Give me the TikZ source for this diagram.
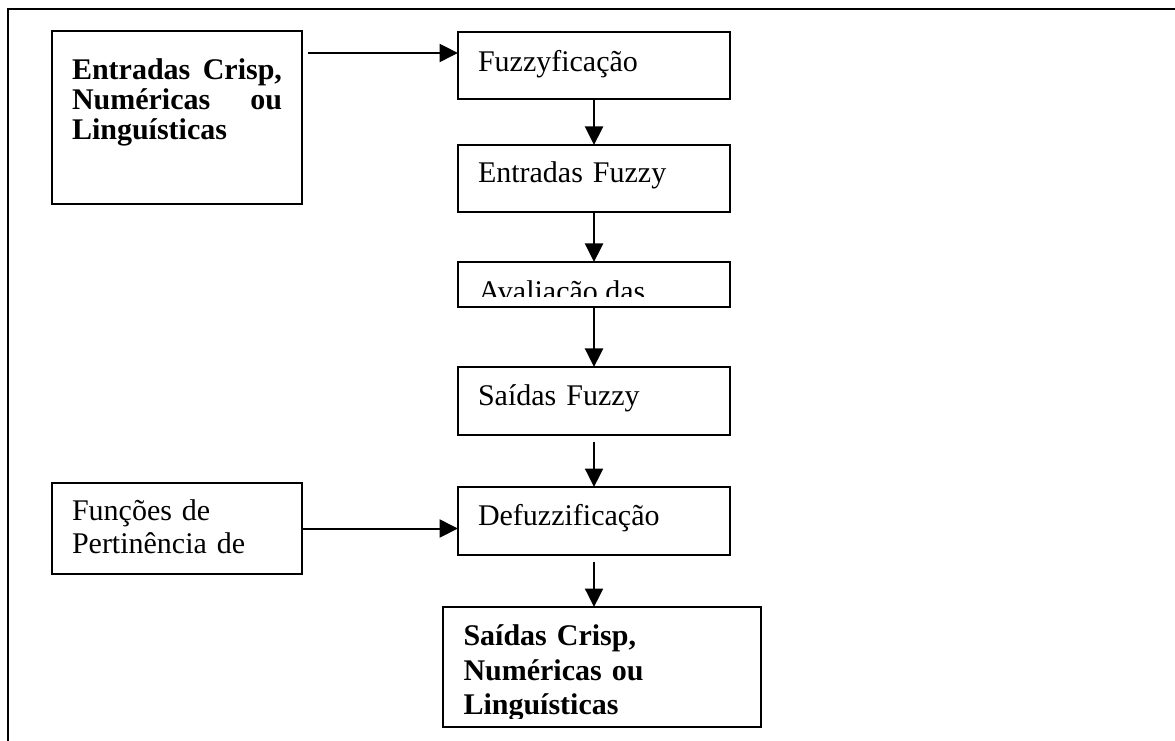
\documentclass[tikz,border=0pt]{standalone}
\usepackage{fontspec}
\setmainfont{Liberation Serif}
\usetikzlibrary{
  positioning,
  arrows.meta
}

\begin{document}
\begin{tikzpicture}[
    node distance=20pt,
    every node/.style={font=\fontsize{12pt}{13.8pt}\selectfont},
    box/.style={
        rectangle,
        draw=black,
        line width=0.8pt,
        align=left,
        anchor=north west,
        inner xsep=8pt,
        inner ysep=0pt,
        outer sep=0pt
    },
    stepbox/.style={
        box,
        text width=92.8pt,
        text height=15.2pt,
        text depth=11.6pt
    },
    txt/.style={
        inner sep=0pt,
        align=left,
        anchor=base west
    },
    arrow/.style={-{Triangle[length=7.4pt,width=7.2pt]}, line width=0.8pt}
]

\useasboundingbox (0,0) rectangle (470pt,-296.4pt);

% Frame
\draw[line width=0.8pt] (3.2pt,-296.4pt) -- (3.2pt,-3.6pt) -- (470pt,-3.6pt);

% Inputs
\node[box, align=justify, text width=84pt, text height=19.6pt, text depth=49.6pt,
      font=\bfseries\fontsize{12pt}{12pt}\selectfont] (crispin) at (20.8pt,-12.4pt) {%
Entradas Crisp, Numéricas ou Linguísticas
};

\node[box, text width=84pt, text height=14.8pt, text depth=21.6pt,
      font=\fontsize{12pt}{13.2pt}\selectfont] (funcs) at (20.8pt,-193.2pt) {%
Funções de\\
Pertinência de
};

% Main column
\node[stepbox, text height=16pt, text depth=10.8pt] (fuzz) at (183.2pt,-12.8pt) {%
Fuzzyficação
};

\node[stepbox, below=18.4pt of fuzz] (fuzzin) {%
Entradas Fuzzy
};

\node[box, minimum width=108.8pt, minimum height=18pt, below=of fuzzin] (rules) {};
\begin{scope}
  \clip (rules.north west) rectangle ([yshift=4pt]rules.south east);
  \node[txt] (rulestxt) at ([xshift=8pt,yshift=-15.8pt]rules.north west) {Avaliação das};
\end{scope}

\node[stepbox, text depth=12pt, below=24pt of rules] (sfuzzy) {%
Saídas Fuzzy
};

\node[stepbox, text depth=12pt, below=20.8pt of sfuzzy] (defuzz) {%
Defuzzificação
};

\node[box, minimum width=127.2pt, minimum height=48pt, below=20.8pt of defuzz, xshift=3.2pt] (crispout) {};
\begin{scope}
  \clip (crispout.north west) rectangle ([yshift=3.6pt]crispout.south east);
  \node[txt, text width=111.2pt, font=\bfseries\fontsize{12pt}{13.8pt}\selectfont] (crispouttxt)
      at ([xshift=8pt,yshift=-15.5pt]crispout.north west) {%
  Saídas Crisp,\\
  Numéricas ou\\
  Linguísticas
  };
\end{scope}

% Arrows
\coordinate (inrow) at ([yshift=-8.4pt]fuzz.north west);
\draw[arrow, shorten <=2.4pt] (crispin.east |- inrow) -- (inrow);
\draw[arrow] (fuzz) -- (fuzzin);
\draw[arrow] (fuzzin) -- (rules);
\draw[arrow] (rules) -- (sfuzzy);
\draw[arrow, shorten <=2.8pt] (sfuzzy) -- (defuzz);
\draw[arrow, shorten <=2.8pt] (defuzz.south) -- (defuzz.south |- crispout.north);
\draw[arrow] (funcs.east) -- (funcs.east -| defuzz.west);

\end{tikzpicture}
\end{document}
